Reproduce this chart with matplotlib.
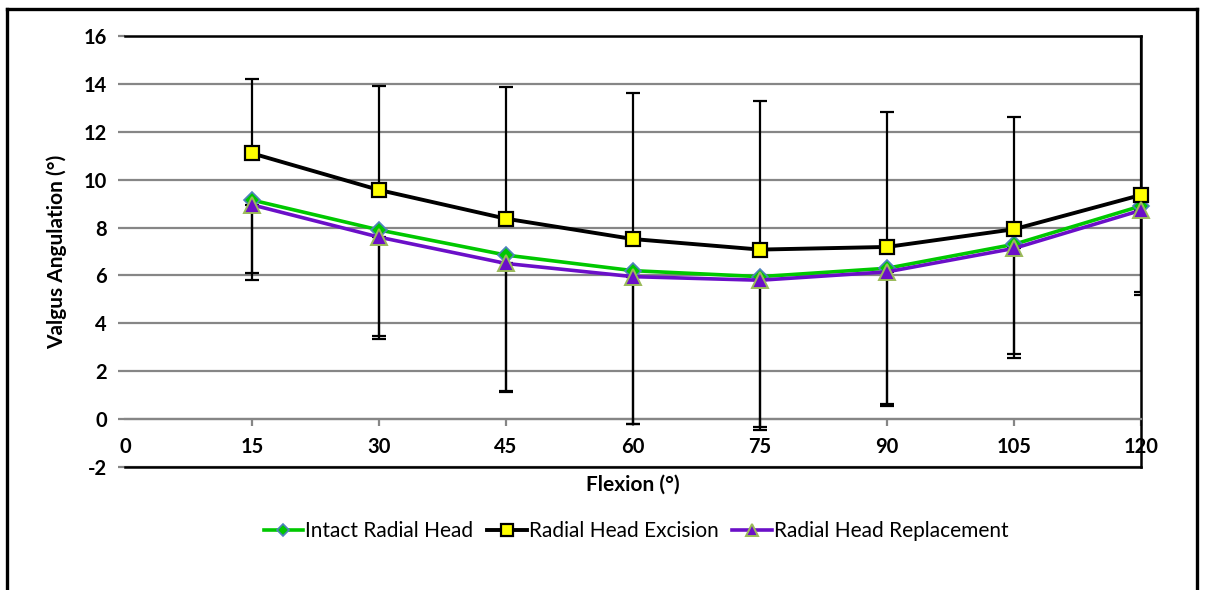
import matplotlib
matplotlib.use("Agg")
import matplotlib.pyplot as plt
from matplotlib.lines import Line2D
import numpy as np

plt.rcParams['font.family'] = ['Lato', 'DejaVu Sans']
plt.rcParams['axes.unicode_minus'] = False

flexion = [15, 30, 45, 60, 75, 90, 105, 120]
intact = [9.15, 7.9, 6.85, 6.2, 5.95, 6.3, 7.3, 8.9]
excision = [11.1, 9.57, 8.37, 7.52, 7.08, 7.19, 7.93, 9.36]
replacement = [8.95, 7.6, 6.5, 5.95, 5.8, 6.15, 7.13, 8.72]
# one-sided SD error bars as drawn
intact_sd = [3.05, 4.44, 5.68, 6.39, 6.26, 5.66, 4.6, 3.6]
excision_sd = [3.11, 4.36, 5.52, 6.11, 6.21, 5.62, 4.69, 7.0]
replacement_sd = [3.15, 4.25, 5.35, 6.15, 6.24, 5.62, 4.56, 3.52]

x_ticks = [0, 15, 30, 45, 60, 75, 90, 105, 120]
y_ticks = [-2, 0, 2, 4, 6, 8, 10, 12, 14, 16]

fig = plt.figure(figsize=(12.05, 5.9), dpi=100)
ax = fig.add_axes([125/1205, 1-467/590, (1141-125)/1205, (467-36)/590])

gray = '#868686'
green = '#00C800'
purple = '#6B0FC8'

ax.set_xlim(0, 120)
ax.set_ylim(-2, 16)
ax.set_yticks(y_ticks)
ax.set_xticks(x_ticks)
ax.yaxis.grid(True, color=gray, lw=1.6, zorder=0)
ax.set_axisbelow(True)

for s in ['top', 'right']:
    ax.spines[s].set_color('black')
    ax.spines[s].set_linewidth(1.8)
ax.spines['left'].set_visible(False)
ax.spines['bottom'].set_position(('data', 0))
ax.spines['bottom'].set_color(gray)
ax.spines['bottom'].set_linewidth(1.6)
ax.axhline(-2, color='black', lw=1.8, clip_on=False, zorder=3)

ax.tick_params(axis='y', direction='out', length=5, width=1.6, color=gray,
               pad=8, labelsize=14.5)
ax.tick_params(axis='x', direction='out', length=5, width=1.6, color=gray,
               pad=8, labelsize=14.5)
for lab in ax.get_yticklabels() + ax.get_xticklabels():
    lab.set_fontweight('bold')
ax.xaxis.get_major_ticks()[0].tick1line.set_visible(False)

ekw = dict(ecolor='black', elinewidth=1.6, capsize=5, capthick=1.6)
z = np.zeros(len(flexion))
ax.errorbar(flexion, intact, yerr=[intact_sd, z], fmt='none', zorder=4, **ekw)
ax.errorbar(flexion, replacement, yerr=[replacement_sd, z], fmt='none', zorder=4, **ekw)
ax.errorbar(flexion, excision, yerr=[z, excision_sd], fmt='none', zorder=4, **ekw)

ax.plot(flexion, intact, color=green, lw=2.6, marker='D', markersize=8,
        markerfacecolor=green, markeredgecolor='#4F81BD', markeredgewidth=1.2,
        label='Intact Radial Head', zorder=5, clip_on=False)
ax.plot(flexion, excision, color='black', lw=2.8, marker='s', markersize=10.5,
        markerfacecolor='#FFFF00', markeredgecolor='black', markeredgewidth=1.6,
        label='Radial Head Excision', zorder=6, clip_on=False)
ax.plot(flexion, replacement, color=purple, lw=2.6, marker='^', markersize=11,
        markerfacecolor=purple, markeredgecolor='#9BBB59', markeredgewidth=1.4,
        label='Radial Head Replacement', zorder=7, clip_on=False)

ax.set_ylabel('Valgus Angulation (°)', fontsize=15, fontweight='bold', labelpad=12)
ax.set_xlabel('Flexion (°)', fontsize=15, fontweight='bold')
ax.xaxis.set_label_coords(0.5, -0.018)

leg = fig.legend(loc='center', bbox_to_anchor=(636/1205, 1-531/590), ncol=3,
                 frameon=False, fontsize=15, handlelength=1.9, handletextpad=0.1,
                 columnspacing=0.65, markerscale=0.8)

# outer chart border
for xs, ys in [((7/1205, 7/1205), (0, 1-9/590)),
               ((7/1205, 1197/1205), (1-9/590, 1-9/590)),
               ((1197/1205, 1197/1205), (1-9/590, 0))]:
    fig.add_artist(Line2D(xs, ys, color='black', lw=2.4, transform=fig.transFigure))

fig.savefig('out.png', dpi=100)
